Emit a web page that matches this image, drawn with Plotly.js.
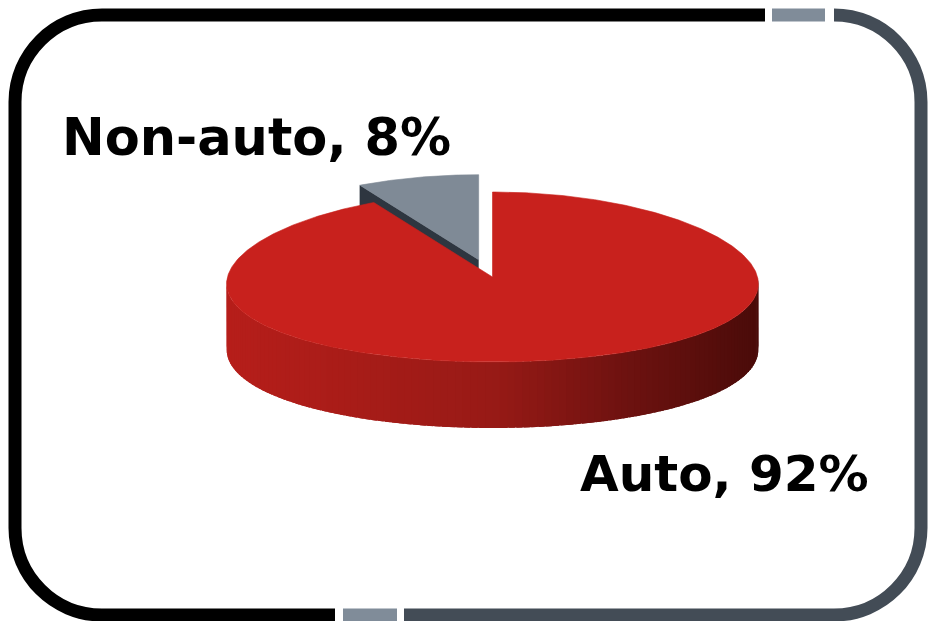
<!DOCTYPE html>
<html>
<head>
<meta charset="utf-8">
<script src="https://cdn.plot.ly/plotly-3.0.1.min.js"></script>
<style>html,body{margin:0;padding:0;background:#fff;}#chart{width:936px;height:621px;}</style>
</head>
<body>
<div id="chart"></div>
<script>
// ---- data ----
const labels = ["Auto", "Non-auto"];
const values = [92, 8];

// ---- style / geometry ----
const topColors = ["#c8211d", "#7f8a96"];
const sideColors = ["#b01c18", "#2e3640"];
const explode = [0, 0.21];
const CX = 492.5, CY = 277, RX = 265, RY = 85, DEPTH = 66, PERSP = 0.08;
const sideStops = [[0, [182, 30, 26]], [0.5, [152, 26, 22]], [0.75, [110, 18, 16]], [1, [74, 11, 9]]];

function pt(phi, r, z, off) {
  const a = phi * Math.PI / 180;
  const yn = -Math.cos(a) * r;
  const s = 1 + PERSP * yn;
  return [CX + RX * r * Math.sin(a) * s + off[0], CY + RY * yn + z + off[1]];
}
function lerpColor(t) {
  for (let i = 1; i < sideStops.length; i++) {
    if (t <= sideStops[i][0]) {
      const [t0, c0] = sideStops[i - 1], [t1, c1] = sideStops[i];
      const u = (t - t0) / (t1 - t0);
      return "rgb(" + c0.map((c, k) => Math.round(c + (c1[k] - c) * u)).join(",") + ")";
    }
  }
  return "rgb(" + sideStops[sideStops.length - 1][1].join(",") + ")";
}
function poly(points, color, lw) {
  return {
    type: "scatter", mode: "lines", fill: "toself", fillcolor: color,
    x: points.map(p => p[0]), y: points.map(p => p[1]),
    line: {color: color, width: lw === undefined ? 0.6 : lw}, hoverinfo: "skip", showlegend: false
  };
}

const total = values.reduce((a, b) => a + b, 0);
const slices = [];
let acc = 0;
values.forEach((v, i) => {
  const start = acc / total * 360, end = (acc + v) / total * 360;
  const mid = (start + end) / 2 * Math.PI / 180;
  const e = explode[i];
  const off = [RX * e * Math.sin(mid), -RY * e * Math.cos(mid)];
  slices.push({i, start, end, off});
  acc += v;
});

const backTraces = [], frontTraces = [];
slices.forEach(sl => {
  const target = sl.i === 0 ? frontTraces : backTraces;
  if (sl.start > 180) {
    target.push(poly([pt(sl.start, 0, 0, sl.off), pt(sl.start, 1, 0, sl.off), pt(sl.start, 1, DEPTH, sl.off), pt(sl.start, 0, DEPTH, sl.off)], sideColors[sl.i]));
  }
  const a0 = Math.max(sl.start, 90), a1 = Math.min(sl.end, 270);
  if (a1 > a0) {
    const step = 1.5;
    for (let a = a0; a < a1; a += step) {
      const b = Math.min(a + step + 1.2, a1);
      const pts = [];
      for (let t = a; t <= b + 1e-9; t += 0.3) pts.push(pt(t, 1, 0, sl.off));
      pts.push(pt(b, 1, 0, sl.off));
      for (let t = b; t >= a - 1e-9; t -= 0.3) pts.push(pt(t, 1, DEPTH, sl.off));
      pts.push(pt(a, 1, DEPTH, sl.off));
      const xm = pt(a + step / 2, 1, 0, sl.off)[0];
      const tt = Math.min(1, Math.max(0, (xm - (CX - RX)) / (2 * RX)));
      target.push(poly(pts, lerpColor(tt), 0));
    }
  }
  const top = [pt(0, 0, 0, sl.off)];
  for (let a = sl.start; a <= sl.end + 1e-9; a += 0.5) top.push(pt(a, 1, 0, sl.off));
  top.push(pt(sl.end, 1, 0, sl.off));
  top.push(pt(0, 0, 0, sl.off));
  target.push(poly(top, topColors[sl.i]));
});

const annotations = [
  {text: labels[1] + ", " + values[1] + "%", x: 256, y: 137, size: 51},
  {text: labels[0] + ", " + values[0] + "%", x: 724, y: 474, size: 50}
].map(a => {
  const s = a.size; delete a.size;
  return Object.assign(a, {
    xref: "x", yref: "y", showarrow: false, xanchor: "center", yanchor: "middle",
    font: {family: "DejaVu Sans", size: s, color: "#000000", weight: "bold"}
  });
});

const R = 87, K = 0.5523 * R, L = 15, Rt = 921, T = 15, B = 615;
const shapes = [
  {path: `M 335,${B} L ${L + R},${B} C ${L + R - K},${B} ${L},${B - R + K} ${L},${B - R} L ${L},${T + R} C ${L},${T + R - K} ${L + R - K},${T} ${L + R},${T} L 765,${T}`, color: "#000000"},
  {path: `M 772,${T} L 825,${T}`, color: "#808c99"},
  {path: `M 343,${B} L 397,${B}`, color: "#808c99"},
  {path: `M ${Rt - R},${T} C ${Rt - R + K},${T} ${Rt},${T + R - K} ${Rt},${T + R} L ${Rt},${B - R} C ${Rt},${B - R + K} ${Rt - R + K},${B} ${Rt - R},${B} L 404,${B}`, color: "#434c56"}
].map(s => ({type: "path", path: s.path, xref: "x", yref: "y", line: {color: s.color, width: 13}, layer: "above"}));

Plotly.newPlot("chart", backTraces.concat(frontTraces), {
  width: 936, height: 621,
  margin: {l: 0, r: 0, t: 0, b: 0},
  paper_bgcolor: "#ffffff", plot_bgcolor: "#ffffff",
  xaxis: {range: [0, 936], visible: false, fixedrange: true},
  yaxis: {range: [621, 0], visible: false, fixedrange: true},
  showlegend: false,
  annotations: annotations,
  shapes: shapes
}, {staticPlot: true});
</script>
</body>
</html>
